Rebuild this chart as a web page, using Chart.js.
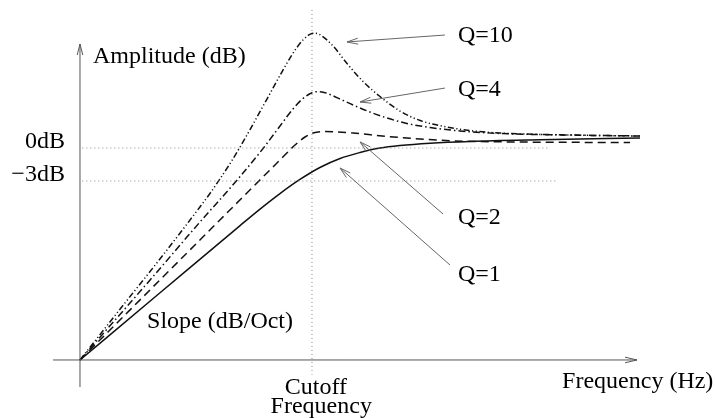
<!DOCTYPE html>
<html>
<head>
<meta charset="utf-8">
<script src="https://cdn.jsdelivr.net/npm/chart.js@4.4.1/dist/chart.umd.min.js"></script>
<style>
  html, body { margin: 0; padding: 0; background: #fff; }
  #wrap { width: 715px; height: 418px; }
</style>
</head>
<body>
<div id="wrap"><canvas id="myChart" width="715" height="418"></canvas></div>
<script>
// frequency is relative to the cutoff (1 = cutoff frequency), amplitude in dB
const q1Freq = [0, 0.345, 0.690, 0.776, 0.862, 0.948, 1.034, 1.121, 1.207, 1.293, 1.379, 1.509, 1.681, 1.983, 2.414];
const q1Amp  = [-19.27, -13.16, -7.05, -5.55, -4.14, -2.86, -1.77, -0.95, -0.41, 0.0, 0.23, 0.44, 0.60, 0.75, 0.91];

const q2Freq = [0, 0.517, 0.862, 0.927, 0.970, 1.004, 1.043, 1.099, 1.177, 1.323, 1.466, 1.608, 1.810, 2.069, 2.371];
const q2Amp  = [-19.27, -8.36, -1.09, 0.27, 1.0, 1.36, 1.49, 1.47, 1.36, 1.05, 0.82, 0.65, 0.56, 0.52, 0.5];

const q4Freq = [0, 0.302, 0.517, 0.681, 0.789, 0.862, 0.918, 0.961, 0.991, 1.017, 1.043, 1.078, 1.121, 1.177, 1.250, 1.323, 1.409, 1.509, 1.638, 1.810, 2.112, 2.414];
const q4Amp  = [-19.27, -12.0, -6.73, -2.82, -0.05, 2.0, 3.55, 4.5, 4.93, 5.12, 5.1, 4.86, 4.45, 3.91, 3.27, 2.73, 2.23, 1.86, 1.55, 1.32, 1.18, 1.09];

const q10Freq = [0, 0.185, 0.358, 0.517, 0.560, 0.603, 0.647, 0.690, 0.733, 0.806, 0.875, 0.905, 0.935, 0.961, 0.983, 1.0, 1.017, 1.043, 1.091, 1.151, 1.220, 1.293, 1.379, 1.466, 1.582, 1.694, 1.810, 2.112, 2.414];
const q10Amp  = [-19.27, -14.32, -9.73, -5.36, -4.14, -2.82, -1.41, 0.09, 1.68, 4.45, 7.09, 8.18, 9.14, 9.82, 10.23, 10.41, 10.43, 10.18, 9.27, 7.68, 6.05, 4.68, 3.36, 2.5, 1.91, 1.55, 1.36, 1.18, 1.09];

const qLabels = ['Q=1', 'Q=2', 'Q=4', 'Q=10'];
const refLevels = [0, -3];
const refLabels = ['0dB', '\u22123dB'];
const cutoffFreq = 1.0;
const originAmp = -19.27;

function toPoints(xs, ys) {
  return xs.map((x, i) => ({ x: x, y: ys[i] }));
}

const curveStyle = {
  borderColor: '#111',
  borderWidth: 1.5,
  pointRadius: 0,
  fill: false,
  cubicInterpolationMode: 'monotone'
};
const refStyle = {
  borderColor: '#888',
  borderWidth: 1,
  borderDash: [1, 3],
  pointRadius: 0,
  fill: false,
  tension: 0
};

// label + arrow layout, in data units [labelX, labelBaseline, tailX, tailY, headX, headY]
const annot = [
  [1.629, -12.09, 1.595, -10.64, 1.121, -1.82],
  [1.629, -6.91, 1.565, -6.0, 1.207, 0.55],
  [1.629, 4.73, 1.573, 5.45, 1.207, 4.18],
  [1.629, 9.64, 1.573, 10.27, 1.151, 9.64]
];

function arrow(ctx, x1, y1, x2, y2, len, half) {
  const a = Math.atan2(y2 - y1, x2 - x1);
  ctx.beginPath();
  ctx.moveTo(x1, y1);
  ctx.lineTo(x2, y2);
  ctx.stroke();
  const bx = x2 - len * Math.cos(a), by = y2 - len * Math.sin(a);
  const nx = -Math.sin(a) * half, ny = Math.cos(a) * half;
  ctx.beginPath();
  ctx.moveTo(bx + nx, by + ny);
  ctx.lineTo(x2, y2);
  ctx.lineTo(bx - nx, by - ny);
  ctx.stroke();
}

const decor = {
  id: 'decor',
  afterDatasetsDraw(chart) {
    const ctx = chart.ctx;
    const xs = chart.scales.x, ys = chart.scales.y;
    const px = v => xs.getPixelForValue(v);
    const py = v => ys.getPixelForValue(v);
    ctx.save();
    ctx.setLineDash([]);
    ctx.strokeStyle = '#555';
    ctx.lineWidth = 1;
    // axes
    arrow(ctx, px(0), py(-21.73), px(0), py(9.45), 11, 2.8);
    arrow(ctx, px(-0.116), py(originAmp), px(2.401), py(originAmp), 12, 2.8);
    // annotation arrows
    ctx.strokeStyle = '#666';
    annot.forEach(a => arrow(ctx, px(a[2]), py(a[3]), px(a[4]), py(a[5]), 11, 3));

    ctx.fillStyle = '#000';
    ctx.font = '24px "Liberation Serif", "Times New Roman", serif';
    ctx.textBaseline = 'alphabetic';
    ctx.textAlign = 'left';
    annot.forEach((a, i) => ctx.fillText(qLabels[i], px(a[0]), py(a[1])));
    ctx.fillText('Amplitude (dB)', px(0.056), py(7.73));
    ctx.fillText('Slope (dB/Oct)', px(0.289), py(-16.36));
    ctx.textAlign = 'right';
    refLevels.forEach((lv, i) => ctx.fillText(refLabels[i], px(-0.065), py(lv)));
    ctx.fillText('Frequency (Hz)', px(2.73), py(-21.82));
    ctx.textAlign = 'center';
    ctx.fillText('Cutoff', px(1.017), py(-22.36));
    ctx.fillText('Frequency', px(1.04), py(-24.09));
    ctx.restore();
  }
};

const ctx = document.getElementById('myChart');
new Chart(ctx, {
  type: 'line',
  data: {
    datasets: [
      Object.assign({ label: 'cutoff', data: [{ x: cutoffFreq, y: 12.55 }, { x: cutoffFreq, y: -20.6 }] }, refStyle),
      Object.assign({ label: refLabels[0], data: [{ x: 0.01, y: refLevels[0] }, { x: 2.026, y: refLevels[0] }] }, refStyle),
      Object.assign({ label: refLabels[1], data: [{ x: 0.01, y: refLevels[1] }, { x: 2.05, y: refLevels[1] }] }, refStyle),
      Object.assign({ label: qLabels[0], data: toPoints(q1Freq, q1Amp) }, curveStyle),
      Object.assign({ label: qLabels[1], data: toPoints(q2Freq, q2Amp) }, curveStyle, { borderDash: [8, 5] }),
      Object.assign({ label: qLabels[2], data: toPoints(q4Freq, q4Amp) }, curveStyle, { borderDash: [7, 3, 1.5, 3] }),
      Object.assign({ label: qLabels[3], data: toPoints(q10Freq, q10Amp) }, curveStyle, { borderDash: [6, 2.5, 1.2, 2.5, 1.2, 2.5] })
    ]
  },
  options: {
    responsive: false,
    animation: false,
    devicePixelRatio: 1,
    events: [],
    layout: { padding: 0 },
    plugins: { legend: { display: false }, tooltip: { enabled: false } },
    scales: {
      x: { type: 'linear', display: false, min: -0.3448, max: 2.7371 },
      y: { type: 'linear', display: false, min: -24.545, max: 13.4545 }
    }
  },
  plugins: [decor]
});
</script>
</body>
</html>
